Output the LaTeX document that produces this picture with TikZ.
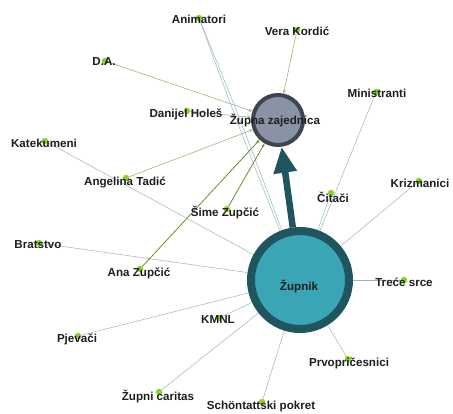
\documentclass[tikz,border=0pt]{standalone}
\usepackage{fontspec}
\setmainfont{Liberation Sans}
\usetikzlibrary{arrows.meta,backgrounds}

\definecolor{dotgreen}{RGB}{140,210,40}
\definecolor{edgeblue}{RGB}{150,182,192}
\definecolor{edgeolive}{RGB}{170,178,125}
\definecolor{edgegreen}{RGB}{110,140,45}
\definecolor{zupnikfill}{RGB}{58,165,181}
\definecolor{zupnikdraw}{RGB}{30,85,95}
\definecolor{zzfill}{RGB}{138,146,166}
\definecolor{zzdraw}{RGB}{62,68,80}
\definecolor{labeltext}{RGB}{30,30,30}

\begin{document}
\begin{tikzpicture}[x=1pt, y=-1pt,
    dot/.style={circle, fill=dotgreen, inner sep=0pt, minimum size=6.5pt},
    lbl/.style={font=\fontsize{11.6}{13}\selectfont\bfseries, text=labeltext, inner sep=0pt},
    hubbig/.style={circle, fill=zupnikfill, draw=zupnikdraw, line width=8pt, minimum size=98pt},
    hubsmall/.style={circle, fill=zzfill, draw=zzdraw, line width=4pt, minimum size=50pt},
    toparish/.style={edgeblue, line width=0.5pt},
    tocommunity/.style={edgeolive, line width=0.6pt, -{Stealth[length=4pt,width=3pt]}},
    tocommunitystrong/.style={edgegreen, line width=0.8pt, -{Stealth[length=4pt,width=3pt]}}]
    \useasboundingbox (0,0) rectangle (453,413);

    % Hubs
    \node[hubbig] (zupnik) at (300,280) {};
    \node[hubsmall] (zz) at (278,120) {};

    % Member dots
    \node[dot] (anim) at (199,18) {};
    \node[dot] (vera) at (297,30) {};
    \node[dot] (da) at (105,61) {};
    \node[dot] (danijel) at (187,111) {};
    \node[dot] (kate) at (45,141) {};
    \node[dot] (angelina) at (126,178) {};
    \node[dot] (sime) at (227,209) {};
    \node[dot] (brat) at (39,243) {};
    \node[dot] (ana) at (140,269) {};
    \node[dot] (pjev) at (78,336) {};
    \node[dot] (caritas) at (159,392) {};
    \node[dot] (schoen) at (262,402) {};
    \node[dot] (kmnl) at (219,318) {};
    \node[dot] (prvo) at (348,359) {};
    \node[dot] (trece) at (404,280) {};
    \node[dot] (kriz) at (419,181) {};
    \node[dot] (citaci) at (331,193) {};
    \node[dot] (mini) at (376,92) {};

    % Labels
    \node[lbl] (zupnik-t) at (299,287) {Župnik};
    \node[lbl] (zz-t) at (275,121) {Župna zajednica};
    \node[lbl] (anim-t) at (199,19) {Animatori};
    \node[lbl] (vera-t) at (297,31) {Vera Kordić};
    \node[lbl] (da-t) at (104,62) {D.A.};
    \node[lbl] (danijel-t) at (186,114) {Danijel Holeš};
    \node[lbl] (kate-t) at (44,143) {Katekumeni};
    \node[lbl] (angelina-t) at (125,182) {Angelina Tadić};
    \node[lbl] (sime-t) at (225,213) {Šime Zupčić};
    \node[lbl] (brat-t) at (38,245) {Bratstvo};
    \node[lbl] (ana-t) at (139,273) {Ana Zupčić};
    \node[lbl] (pjev-t) at (77,339) {Pjevači};
    \node[lbl] (caritas-t) at (158,397) {Župni caritas};
    \node[lbl] (schoen-t) at (261,406) {Schöntattski pokret};
    \node[lbl] (kmnl-t) at (218,320) {KMNL};
    \node[lbl] (prvo-t) at (349,363) {Prvopričesnici};
    \node[lbl] (trece-t) at (404,282) {Treće srce};
    \node[lbl] (kriz-t) at (420,183) {Krizmanici};
    \node[lbl] (citaci-t) at (333,197) {Čitači};
    \node[lbl] (mini-t) at (377,93) {Ministranti};

    % Edges
    \begin{pgfonlayer}{background}
        % to Zupnik
        \draw[toparish] (anim) to[bend left=1] (zupnik);
        \draw[toparish] (anim) to[bend right=1] (zupnik);
        \draw[toparish] (kate) -- (zupnik);
        \draw[toparish] (brat) -- (zupnik);
        \draw[toparish] (pjev) -- (zupnik);
        \draw[toparish] (caritas) -- (zupnik);
        \draw[toparish] (kmnl) -- (zupnik);
        \draw[toparish] (schoen) -- (zupnik);
        \draw[toparish] (prvo) -- (zupnik);
        \draw[toparish, line width=1pt] (trece) -- (zupnik);
        \draw[toparish] (kriz) -- (zupnik);
        \draw[toparish] (citaci) -- (zupnik);
        \draw[toparish] (mini) -- (zupnik);
        % to Zupna zajednica
        \draw[tocommunity] (vera) -- (zz);
        \draw[tocommunity] (da) -- (zz);
        \draw[tocommunity] (danijel) -- (zz);
        \draw[tocommunity] (angelina) -- (zz);
        \draw[tocommunitystrong] (sime) -- (zz);
        \draw[tocommunitystrong] (ana) -- (zz);
    \end{pgfonlayer}

    % Main link
    \draw[zupnikdraw, line width=6.5pt, -{Triangle[length=26pt,width=22pt]}] (zupnik) -- (zz);
\end{tikzpicture}
\end{document}
